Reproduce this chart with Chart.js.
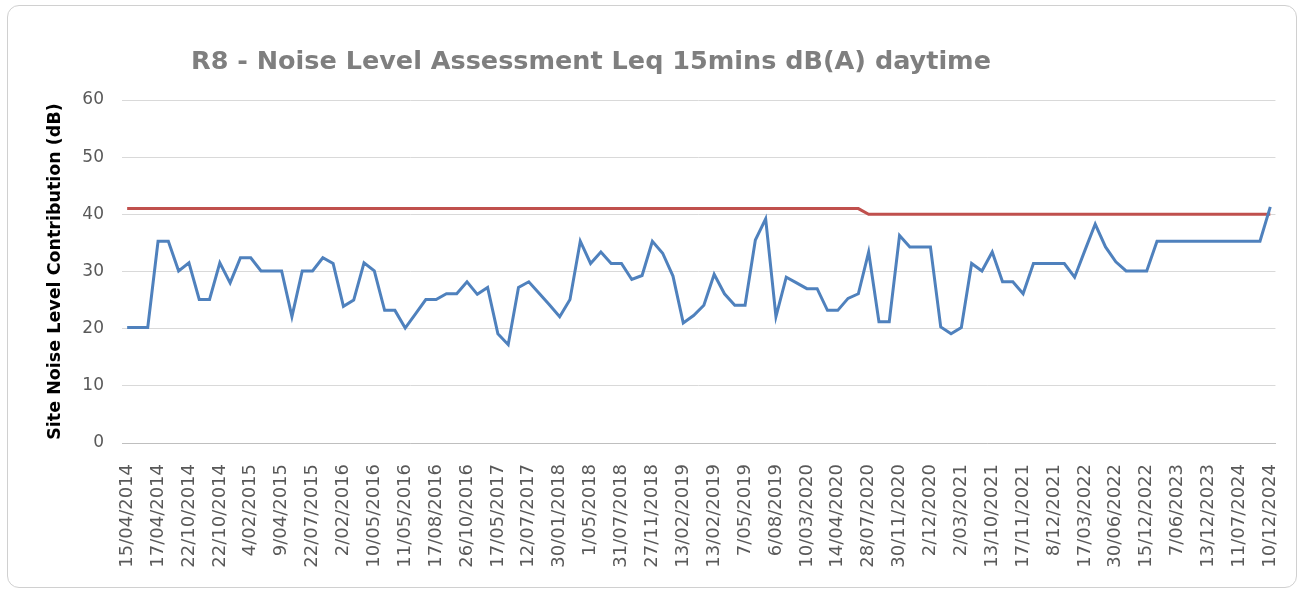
<!DOCTYPE html>
<html>
<head>
<meta charset="utf-8">
<script src="https://cdn.jsdelivr.net/npm/chart.js@4.4.1/dist/chart.umd.min.js"></script>
<style>
  html, body { margin: 0; padding: 0; background: #fff; }
  #frame {
    position: absolute; left: 7px; top: 5px; width: 1288px; height: 581px;
    border: 1.5px solid #d0d0d0; border-radius: 12px;
  }
  #NoiseChart { position: absolute; left: 0; top: 0; }
</style>
</head>
<body>
<div id="frame"></div>
<canvas id="NoiseChart" width="1305" height="592"></canvas>
<script>
var chartTitle = 'R8 - Noise Level Assessment Leq 15mins dB(A) daytime';
var yTitle = 'Site Noise Level Contribution (dB)';

// tanggal yang tampil di sumbu X (tiap 3 kategori)
var tickLabels = [
    '15/04/2014', '17/04/2014', '22/10/2014', '22/10/2014', '4/02/2015', '9/04/2015',
    '22/07/2015', '2/02/2016', '10/05/2016', '11/05/2016', '17/08/2016', '26/10/2016',
    '17/05/2017', '12/07/2017', '30/01/2018', '1/05/2018', '31/07/2018', '27/11/2018',
    '13/02/2019', '13/02/2019', '7/05/2019', '6/08/2019', '10/03/2020', '14/04/2020',
    '28/07/2020', '30/11/2020', '2/12/2020', '2/03/2021', '13/10/2021', '17/11/2021',
    '8/12/2021', '17/03/2022', '30/06/2022', '15/12/2022', '7/06/2023', '13/12/2023',
    '11/07/2024', '10/12/2024'
];

// nilai kebisingan (biru)
var noiseLevel = [
    20.2, 20.2, 20.2, 35.3, 35.3, 30.1, 31.5, 25.1, 25.1, 31.5,
    28.0, 32.4, 32.4, 30.1, 30.1, 30.1, 22.1, 30.1, 30.1, 32.4,
    31.4, 23.9, 25.0, 31.5, 30.1, 23.2, 23.2, 20.1, 22.6, 25.1,
    25.1, 26.1, 26.1, 28.2, 26.0, 27.2, 19.1, 17.2, 27.2, 28.2,
    26.2, 24.2, 22.1, 25.1, 35.3, 31.4, 33.4, 31.4, 31.4, 28.6,
    29.3, 35.3, 33.2, 29.2, 21.0, 22.3, 24.1, 29.5, 26.1, 24.1,
    24.1, 35.5, 39.2, 22.1, 29.0, 28.0, 27.0, 27.0, 23.2, 23.2,
    25.3, 26.1, 33.4, 21.2, 21.2, 36.3, 34.3, 34.3, 34.3, 20.3,
    19.1, 20.2, 31.4, 30.1, 33.4, 28.2, 28.2, 26.1, 31.4, 31.4,
    31.4, 31.4, 29.0, 33.7, 38.3, 34.3, 31.7, 30.1, 30.1, 30.1,
    35.3, 35.3, 35.3, 35.3, 35.3, 35.3, 35.3, 35.3, 35.3, 35.3,
    35.3, 41.3
];

// batas kriteria (merah)
var criteria = [
    41, 41, 41, 41, 41, 41, 41, 41, 41, 41, 41, 41, 41, 41, 41, 41, 41, 41,
    41, 41, 41, 41, 41, 41, 41, 41, 41, 41, 41, 41, 41, 41, 41, 41, 41, 41,
    41, 41, 41, 41, 41, 41, 41, 41, 41, 41, 41, 41, 41, 41, 41, 41, 41, 41,
    41, 41, 41, 41, 41, 41, 41, 41, 41, 41, 41, 41, 41, 41, 41, 41, 41, 41,
    40, 40, 40, 40, 40, 40, 40, 40, 40, 40, 40, 40, 40, 40, 40, 40, 40, 40,
    40, 40, 40, 40, 40, 40, 40, 40, 40, 40, 40, 40, 40, 40, 40, 40, 40, 40,
    40, 40, 40, 40
];

var yTicks = [0, 10, 20, 30, 40, 50, 60];

// kategori: label hanya tiap 3 titik
var categories = noiseLevel.map(function (v, i) {
    return i % 3 === 0 ? tickLabels[i / 3] : '';
});

var titlePlugin = {
    id: 'titleText',
    afterDraw: function (chart) {
        var c = chart.ctx;
        c.save();
        c.font = 'bold 25.5px "DejaVu Sans"';
        c.fillStyle = '#7f7f7f';
        c.textAlign = 'center';
        c.textBaseline = 'middle';
        c.fillText(chartTitle, 591, 62);
        c.restore();
    }
};

var ctx = document.getElementById('NoiseChart').getContext('2d');
var noiseChart = new Chart(ctx, {
    type: 'line',
    data: {
        labels: categories,
        datasets: [{
            label: 'Noise Level',
            data: noiseLevel,
            borderColor: '#4f81bd',
            backgroundColor: '#4f81bd',
            borderWidth: 3,
            pointRadius: 0,
            tension: 0
        }, {
            label: 'Criteria',
            data: criteria,
            borderColor: '#c0504d',
            backgroundColor: '#c0504d',
            borderWidth: 3,
            pointRadius: 0,
            tension: 0
        }]
    },
    options: {
        responsive: false,
        animation: false,
        layout: { padding: { left: 45, top: 100, right: 25, bottom: 0 } },
        plugins: {
            legend: { display: false }
        },
        scales: {
            x: {
                offset: true,
                grid: { display: false },
                border: { display: true, color: '#bfbfbf', width: 1 },
                ticks: {
                    autoSkip: false,
                    maxRotation: 90,
                    minRotation: 90,
                    padding: 13,
                    color: '#595959',
                    font: { family: 'DejaVu Sans', size: 18 }
                },
                afterFit: function (s) { s.height = 149; }
            },
            y: {
                min: yTicks[0],
                max: yTicks[yTicks.length - 1],
                grid: { color: '#d9d9d9', drawTicks: false },
                border: { display: false },
                ticks: {
                    stepSize: 10,
                    padding: 18,
                    color: '#595959',
                    font: { family: 'DejaVu Sans', size: 17 }
                },
                title: {
                    display: true,
                    text: yTitle,
                    color: '#000',
                    padding: 0,
                    font: { family: 'DejaVu Sans', size: 17.5, weight: 'bold' }
                },
                afterFit: function (s) { s.width = 77; }
            }
        }
    },
    plugins: [titlePlugin]
});
</script>
</body>
</html>
